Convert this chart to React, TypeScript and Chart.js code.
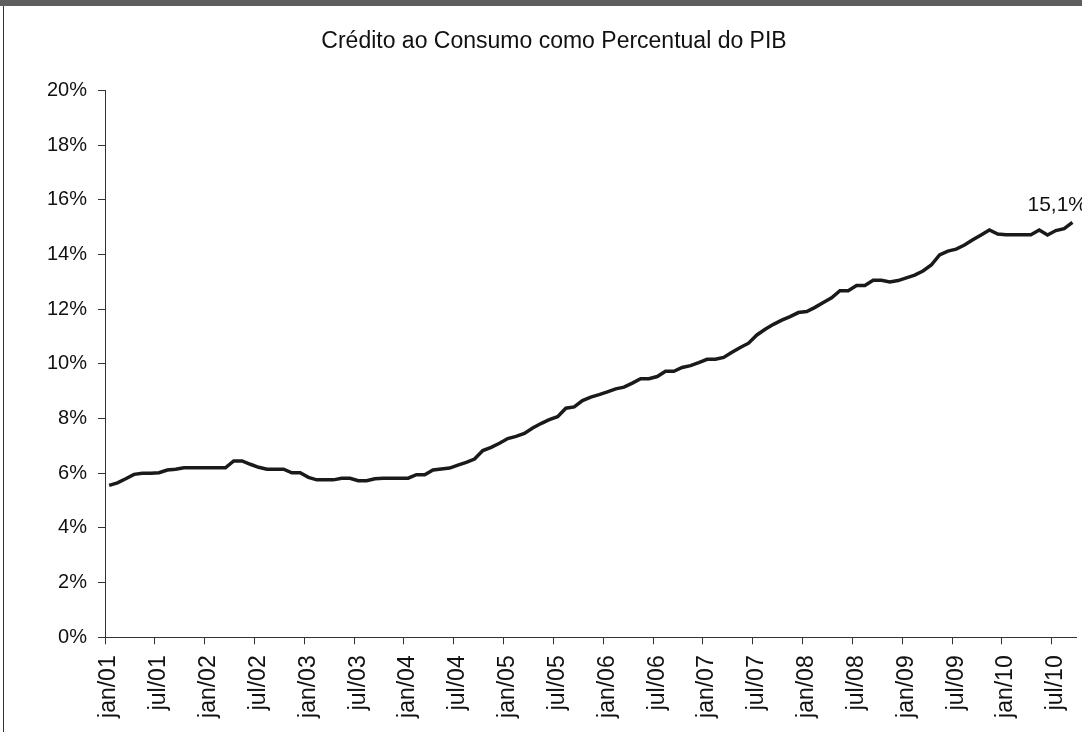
import React, { useEffect, useRef } from 'react';
import { Chart, registerables } from 'chart.js';

Chart.register(...registerables);

// Portuguese month abbreviations and year suffixes used to build the category labels
const monthNames = ['jan', 'fev', 'mar', 'abr', 'mai', 'jun', 'jul', 'ago', 'set', 'out', 'nov', 'dez'];
const yearSuffixes = ['01', '02', '03', '04', '05', '06', '07', '08', '09', '10'];

// Consumer credit as % of GDP, monthly jan/01 .. set/10
const creditoPIB = [
  5.56, 5.65, 5.8, 5.96, 6.0, 6.0, 6.02, 6.12, 6.15, 6.2, 6.2, 6.2,
  6.2, 6.2, 6.2, 6.45, 6.45, 6.33, 6.22, 6.15, 6.15, 6.15, 6.02, 6.02,
  5.85, 5.76, 5.76, 5.76, 5.82, 5.82, 5.73, 5.73, 5.8, 5.82, 5.82, 5.82,
  5.82, 5.95, 5.95, 6.12, 6.16, 6.19, 6.3, 6.4, 6.52, 6.83, 6.95, 7.1,
  7.27, 7.35, 7.46, 7.66, 7.82, 7.96, 8.07, 8.38, 8.43, 8.66, 8.79, 8.88,
  8.98, 9.09, 9.15, 9.3, 9.46, 9.46, 9.54, 9.73, 9.73, 9.87, 9.94, 10.05,
  10.17, 10.17, 10.24, 10.43, 10.6, 10.76, 11.06, 11.27, 11.45, 11.6, 11.73, 11.88,
  11.92, 12.07, 12.25, 12.42, 12.68, 12.68, 12.87, 12.87, 13.06, 13.06, 13.0, 13.05,
  13.15, 13.25, 13.4, 13.62, 13.99, 14.13, 14.2, 14.35, 14.54, 14.72, 14.9, 14.75,
  14.73, 14.73, 14.73, 14.73, 14.9, 14.72, 14.88, 14.95, 15.18,
];

const categories: string[] = [];
for (const y of yearSuffixes) {
  for (const m of monthNames) {
    if (categories.length < creditoPIB.length) categories.push(`${m}/${y}`);
  }
}

const yTickValues = [0, 2, 4, 6, 8, 10, 12, 14, 16, 18, 20];
const chartTitle = 'Crédito ao Consumo como Percentual do PIB';
const lastValueLabel = '15,1%';

const FONT = "'Liberation Sans', Arial, Helvetica, sans-serif";

export default function App() {
  const ref = useRef<HTMLCanvasElement>(null);

  useEffect(() => {
    document.body.style.margin = '0';
    const canvas = ref.current;
    if (!canvas) return;

    const lastLabelPlugin = {
      id: 'lastValueLabel',
      afterDatasetsDraw(chart: any) {
        const meta = chart.getDatasetMeta(0);
        const pt = meta.data[meta.data.length - 1];
        if (!pt) return;
        const ctx = chart.ctx;
        ctx.save();
        ctx.font = `21px ${FONT}`;
        ctx.fillStyle = '#111';
        ctx.textAlign = 'left';
        ctx.textBaseline = 'alphabetic';
        ctx.fillText(lastValueLabel, pt.x - 45, pt.y - 11);
        ctx.restore();
      },
    };

    const chart = new Chart(canvas, {
      type: 'line',
      data: {
        labels: categories,
        datasets: [
          {
            data: creditoPIB,
            borderColor: '#1a1a1a',
            borderWidth: 3.5,
            pointRadius: 0,
            tension: 0,
            fill: false,
          },
        ],
      },
      options: {
        animation: false,
        responsive: false,
        devicePixelRatio: 1,
        layout: { padding: { left: 31.4, right: 5.4, top: 0, bottom: 0 } },
        plugins: {
          legend: { display: false },
          tooltip: { enabled: false },
          title: {
            display: true,
            text: chartTitle,
            color: '#111',
            font: { family: FONT, size: 23, weight: 'normal' },
            padding: { top: 28, bottom: 35 },
          },
        },
        scales: {
          x: {
            type: 'category',
            offset: true,
            grid: {
              offset: true,
              drawOnChartArea: false,
              drawTicks: true,
              tickLength: 7,
              lineWidth: 1,
              color: (c: any) =>
                c.index !== undefined && c.index % 6 === 0 ? '#333' : 'rgba(0,0,0,0)',
            },
            border: { display: true, color: '#333', width: 1 },
            ticks: {
              autoSkip: false,
              maxRotation: 90,
              minRotation: 90,
              padding: 11,
              color: '#111',
              font: { family: FONT, size: 23 },
              callback: (_v: any, i: number) => (i % 6 === 0 ? categories[i] : ''),
            },
            afterFit: (s: any) => {
              s.height = 94.7;
              s.paddingLeft = 0;
              s.paddingRight = 0;
            },
          },
          y: {
            min: yTickValues[0],
            max: yTickValues[yTickValues.length - 1],
            afterBuildTicks: (s: any) => {
              s.ticks = yTickValues.map((v) => ({ value: v }));
            },
            grid: { drawOnChartArea: false, tickLength: 7, color: '#333', lineWidth: 1 },
            border: { display: true, color: '#333', width: 1 },
            ticks: {
              padding: 11,
              color: '#111',
              font: { family: FONT, size: 20 },
              callback: (v: any) => `${v}%`,
            },
            afterFit: (s: any) => {
              s.width = 73.6;
              s.paddingTop = 0;
              s.paddingBottom = 0;
            },
          },
        },
      },
      plugins: [lastLabelPlugin],
    } as any);

    return () => chart.destroy();
  }, []);

  return (
    <div style={{ position: 'relative', width: 1082, height: 732, background: '#fff', overflow: 'hidden' }}>
      <canvas ref={ref} width={1082} height={732} style={{ display: 'block', width: 1082, height: 732 }} />
      <div style={{ position: 'absolute', left: 0, top: 0, width: 1082, height: 6, background: '#5e5e5e' }} />
      <div style={{ position: 'absolute', left: 3, top: 6, width: 1, height: 726, background: '#333' }} />
    </div>
  );
}
